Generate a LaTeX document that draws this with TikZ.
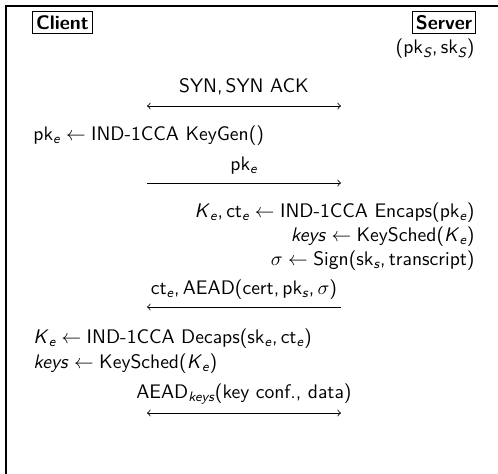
\documentclass[tikz,border=0pt]{standalone}
\usepackage{amsmath}
\usetikzlibrary{arrows}
% italic sans subscript and a spaced left arrow
\newcommand{\isb}[1]{\ensuremath{_{\text{\itshape #1}}}}
\newcommand{\ga}{\ensuremath{\;\leftarrow\;}}
\begin{document}
\begin{tikzpicture}[x=0.51pt,y=-0.51pt,
  font=\sffamily,
  party/.style={draw,line width=0.45pt,inner sep=1.8pt,font=\sffamily\bfseries},
  txt/.style={inner sep=0pt},
  msg/.style={line width=0.4pt}]
\useasboundingbox (0,0) rectangle (498,474);
% frame edges
\draw[line width=0.7pt] (6,474) -- (6,6) -- (498,6);
% parties
\node[party] (client) at (62.5,22.5) {Client};
\node[party] (server) at (444,22.5) {Server};
\node[txt,anchor=base east] (skS) at (475,54) {(pk\isb{S},\,sk\isb{S})};
% handshake
\node[txt,anchor=base] (syn) at (244,93) {SYN,\,SYN ACK};
\coordinate (a1l) at (147,106); \coordinate (a1r) at (341,106);
\draw[msg,<->] (a1l) -- (a1r);
\node[txt,anchor=base west] (kg) at (33,141) {pk\isb{e}\ga IND-1CCA KeyGen()};
\node[txt,anchor=base] (pke) at (244,171) {pk\isb{e}};
\coordinate (a2l) at (147,183); \coordinate (a2r) at (341,183);
\draw[msg,->] (a2l) -- (a2r);
\node[txt,anchor=base east] (enc) at (475,218) {\textit{K}\isb{e},\,ct\isb{e}\ga IND-1CCA Encaps(pk\isb{e})};
\node[txt,anchor=base east] (ksS) at (475,242) {\textit{keys}\ga KeySched(\textit{K}\isb{e})};
\node[txt,anchor=base east] (sig) at (475,266) {$\sigma$\ga Sign(sk\isb{s},\,transcript)};
\node[txt,anchor=base] (ct) at (244,295) {ct\isb{e},\,AEAD(cert,\,pk\isb{s},\,$\sigma$)};
\coordinate (a3l) at (147,307); \coordinate (a3r) at (341,307);
\draw[msg,<-] (a3l) -- (a3r);
\node[txt,anchor=base west] (dec) at (33,344) {\textit{K}\isb{e}\ga IND-1CCA Decaps(sk\isb{e},\,ct\isb{e})};
\node[txt,anchor=base west] (ksC) at (33,369) {\textit{keys}\ga KeySched(\textit{K}\isb{e})};
\node[txt,anchor=base] (aead) at (244,399) {AEAD\isb{keys}(key conf., data)};
\coordinate (a4l) at (147,413); \coordinate (a4r) at (341,413);
\draw[msg,<->] (a4l) -- (a4r);
\end{tikzpicture}
\end{document}
